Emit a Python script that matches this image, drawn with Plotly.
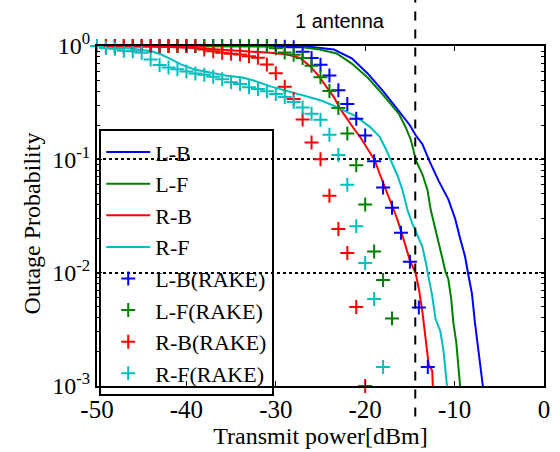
import plotly.graph_objects as go

# ---------------- data ----------------
threshold_dbm = -14.4
title_text = "1 antenna"

x_ticks = [-50, -40, -30, -20, -10, 0]
x_tick_labels = ["-50", "-40", "-30", "-20", "-10", "0"]
y_ticks = [1, 0.1, 0.01, 0.001]
y_tick_labels = ["10<sup>0</sup>", "10<sup>-1</sup>", "10<sup>-2</sup>", "10<sup>-3</sup>"]
y_minor_ticks = [0.002, 0.003, 0.004, 0.005, 0.006, 0.007, 0.008, 0.009,
                 0.02, 0.03, 0.04, 0.05, 0.06, 0.07, 0.08, 0.09,
                 0.2, 0.3, 0.4, 0.5, 0.6, 0.7, 0.8, 0.9]

lb_x = [-50, -26.5, -23.5, -21.5, -19.7, -18.0, -16.3, -15.0, -14.35, -13.6, -12.9,
        -11.8, -10.7, -9.93, -9.38, -8.83, -8.5, -8.06, -7.73, -7.4, -6.95, -6.84]
lb_y = [1.0, 0.99, 0.93, 0.78, 0.57, 0.40, 0.27, 0.20, 0.163, 0.136, 0.100,
        0.0649, 0.0444, 0.0298, 0.0200, 0.0139, 0.00993, 0.00653, 0.00366, 0.00231, 0.00127, 0.001]

lf_x = [-50, -27.9, -25.1, -23.2, -21.5, -19.7, -18.0, -17.3, -16.2, -15.45, -14.9, -14.57,
        -14.35, -13.58, -13.02, -12.69, -12.14, -11.81, -11.37, -11.04, -10.71, -10.38,
        -10.15, -9.82, -9.6, -9.38]
lf_y = [1.0, 0.995, 0.93, 0.86, 0.70, 0.525, 0.37, 0.32, 0.25, 0.19, 0.149, 0.118,
        0.099, 0.0731, 0.0531, 0.0364, 0.0244, 0.0196, 0.0134, 0.0103, 0.0088, 0.0059,
        0.00366, 0.00245, 0.00146, 0.001]

rb_x = [-50, -42, -38.5, -34.2, -30.6, -28.7, -27.3, -26.2, -25.2, -24.3, -23.5, -22.8,
        -22.1, -21.3, -20.6, -19.9, -19.3, -18.9, -18.4, -18.0, -17.5, -17.0, -16.5,
        -16.0, -15.5, -15.0, -14.35, -14.0, -13.6, -13.25, -12.9, -12.5, -12.44]
rb_y = [1.0, 0.98, 0.955, 0.91, 0.87, 0.84, 0.785, 0.667, 0.546, 0.432, 0.354, 0.28,
        0.23, 0.188, 0.159, 0.13, 0.11, 0.097, 0.075, 0.062, 0.05, 0.040, 0.031,
        0.0235, 0.017, 0.0128, 0.0098, 0.0072, 0.0045, 0.0025, 0.00155, 0.00136, 0.001]

rf_x = [-50, -46.6, -43.9, -42.8, -41.7, -40.6, -39.2, -37.3, -35.5, -33.7, -32.4, -30.5,
        -28.7, -26.85, -25.0, -23.2, -21.3, -19.5, -18.4, -17.66, -16.92, -16.37, -15.82,
        -15.26, -14.71, -14.16, -13.61, -13.25, -12.88, -12.51, -12.14, -11.59, -11.23,
        -11.04, -10.85]
rf_y = [1.0, 0.961, 0.90, 0.841, 0.761, 0.689, 0.623, 0.583, 0.546, 0.528, 0.494, 0.438,
        0.399, 0.366, 0.332, 0.290, 0.246, 0.1945, 0.159, 0.122, 0.0911, 0.0713, 0.0531,
        0.0354, 0.027, 0.0215, 0.017, 0.0126, 0.00875, 0.00628, 0.00394, 0.00302, 0.00202,
        0.00136, 0.001]

lb_rake_x = [-50, -49, -48, -47, -46, -45, -44, -43, -42, -41, -40, -39, -38, -37, -36,
             -35, -34, -33, -32, -31, -30, -29, -28, -27, -26, -25, -24, -23, -22, -21,
             -20, -19, -18, -17, -16, -15, -14, -13]
lb_rake_y = [1.0, 1.0, 1.0, 1.0, 1.0, 1.0, 1.0, 1.0, 1.0, 1.0, 1.0, 1.0, 1.0, 1.0, 1.0,
             1.0, 1.0, 1.0, 1.0, 1.0, 1.0, 0.986, 0.974, 0.892, 0.782, 0.684, 0.549, 0.407,
             0.308, 0.228, 0.162, 0.096, 0.0564, 0.0373, 0.0225, 0.0125, 0.00494, 0.00147]

lf_rake_x = [-50, -49, -48, -47, -46, -45, -44, -43, -42, -41, -40, -39, -38, -37, -36,
             -35, -34, -33, -32, -31, -30, -29, -28, -27, -26, -25, -24, -23, -22, -21,
             -20, -19, -18, -17]
lf_rake_y = [1.0, 1.0, 1.0, 1.0, 1.0, 1.0, 1.0, 1.0, 1.0, 1.0, 1.0, 1.0, 1.0, 1.0, 1.0,
             1.0, 1.0, 1.0, 1.0, 1.0, 0.955, 0.875, 0.836, 0.782, 0.671, 0.531, 0.401,
             0.284, 0.169, 0.0885, 0.0399, 0.0154, 0.00863, 0.00394]

rb_rake_x = [-50, -49, -48, -47, -46, -45, -44, -43, -42, -41, -40, -39, -38, -37, -36,
             -35, -34, -33, -32, -31, -30, -29, -28, -27, -26, -25, -24, -23, -22, -21, -20]
rb_rake_y = [1.0, 1.0, 1.0, 1.0, 1.0, 1.0, 1.0, 1.0, 1.0, 1.0, 1.0, 1.0, 0.929, 0.900,
             0.870, 0.853, 0.841, 0.814, 0.787, 0.688, 0.575, 0.438, 0.340, 0.225, 0.141,
             0.100, 0.0478, 0.0243, 0.0149, 0.00497, 0.001]

rf_rake_x = [-50, -49, -48, -47, -46, -45, -44, -43, -42, -41, -40, -39, -38, -37, -36,
             -35, -34, -33, -32, -31, -30, -29, -28, -27, -26, -25, -24, -23, -22, -21,
             -20, -19, -18]
rf_rake_y = [1.0, 0.961, 0.947, 0.910, 0.900, 0.870, 0.761, 0.680, 0.645, 0.623, 0.595,
             0.572, 0.557, 0.535, 0.510, 0.478, 0.462, 0.432, 0.418, 0.399, 0.378, 0.354,
             0.320, 0.287, 0.252, 0.224, 0.165, 0.109, 0.0596, 0.0257, 0.0122, 0.00587,
             0.00147]

BLUE = "rgb(0,0,255)"
GREEN = "rgb(0,128,0)"
RED = "rgb(255,0,0)"
CYAN = "rgb(0,191,191)"
SERIF = "Liberation Serif, Times New Roman, serif"

fig = go.Figure()

lines = [("L-B", lb_x, lb_y, BLUE), ("L-F", lf_x, lf_y, GREEN),
         ("R-B", rb_x, rb_y, RED), ("R-F", rf_x, rf_y, CYAN)]
for i, (name, xs, ys, c) in enumerate(lines):
    fig.add_trace(go.Scatter(x=xs, y=ys, mode="lines", name=name,
                             line=dict(color=c, width=2)))

rakes = [("L-B(RAKE)", lb_rake_x, lb_rake_y, BLUE), ("L-F(RAKE)", lf_rake_x, lf_rake_y, GREEN),
         ("R-B(RAKE)", rb_rake_x, rb_rake_y, RED), ("R-F(RAKE)", rf_rake_x, rf_rake_y, CYAN)]
for i, (name, xs, ys, c) in enumerate(rakes):
    fig.add_trace(go.Scatter(x=xs, y=ys, mode="markers", name=name, cliponaxis=False,
                             marker=dict(symbol="cross-thin", size=10, color=c,
                                         line=dict(color=c, width=2))))

fig.add_shape(type="line", xref="x", yref="paper", x0=threshold_dbm, x1=threshold_dbm,
              y0=-0.09, y1=1.14, line=dict(color="black", width=2, dash="dash"), layer="above")

fig.add_annotation(text=title_text, xref="x", yref="paper", x=threshold_dbm, y=1.075,
                   xanchor="right", yanchor="middle", xshift=-28, showarrow=False,
                   font=dict(family="Liberation Sans, Arial, sans-serif", size=20, color="black"))

fig.add_annotation(text="Outage Probability", xref="paper", yref="paper", x=-0.146, y=0.477,
                   xanchor="center", yanchor="middle", textangle=-90, showarrow=False,
                   font=dict(family=SERIF, size=24, color="black"))

fig.update_layout(
    width=560, height=452,
    margin=dict(l=97, r=10, t=46, b=60),
    paper_bgcolor="white", plot_bgcolor="white",
    font=dict(family=SERIF, size=24, color="black"),
    showlegend=True,
    legend=dict(x=0.005, y=0.755, xanchor="left", yanchor="top",
                bgcolor="rgba(0,0,0,0)", bordercolor="black", borderwidth=2,
                font=dict(family=SERIF, size=22, color="black"),
                itemwidth=44, traceorder="normal"),
)
fig.update_xaxes(range=[-50, 0], tickvals=x_ticks, ticktext=x_tick_labels,
                 ticks="inside", ticklen=5, tickwidth=1, tickcolor="black",
                 tickfont=dict(family=SERIF, size=25),
                 showline=True, linewidth=2, linecolor="black", mirror="ticks",
                 showgrid=False, zeroline=False,
                 title=dict(text="Transmit power[dBm]", standoff=2,
                            font=dict(family=SERIF, size=24)))
fig.update_yaxes(type="log", range=[-3, 0], tickvals=y_ticks, ticktext=y_tick_labels,
                 ticks="inside", ticklen=5, tickwidth=1, tickcolor="black",
                 showline=True, linewidth=2, linecolor="black", mirror="ticks",
                 showgrid=True, gridcolor="black", griddash="dot", gridwidth=1.5,
                 zeroline=False,
                 minor=dict(tickmode="array", tickvals=y_minor_ticks, ticks="inside",
                            ticklen=3, tickwidth=1, tickcolor="black", showgrid=False))

fig.write_html("out.html")
